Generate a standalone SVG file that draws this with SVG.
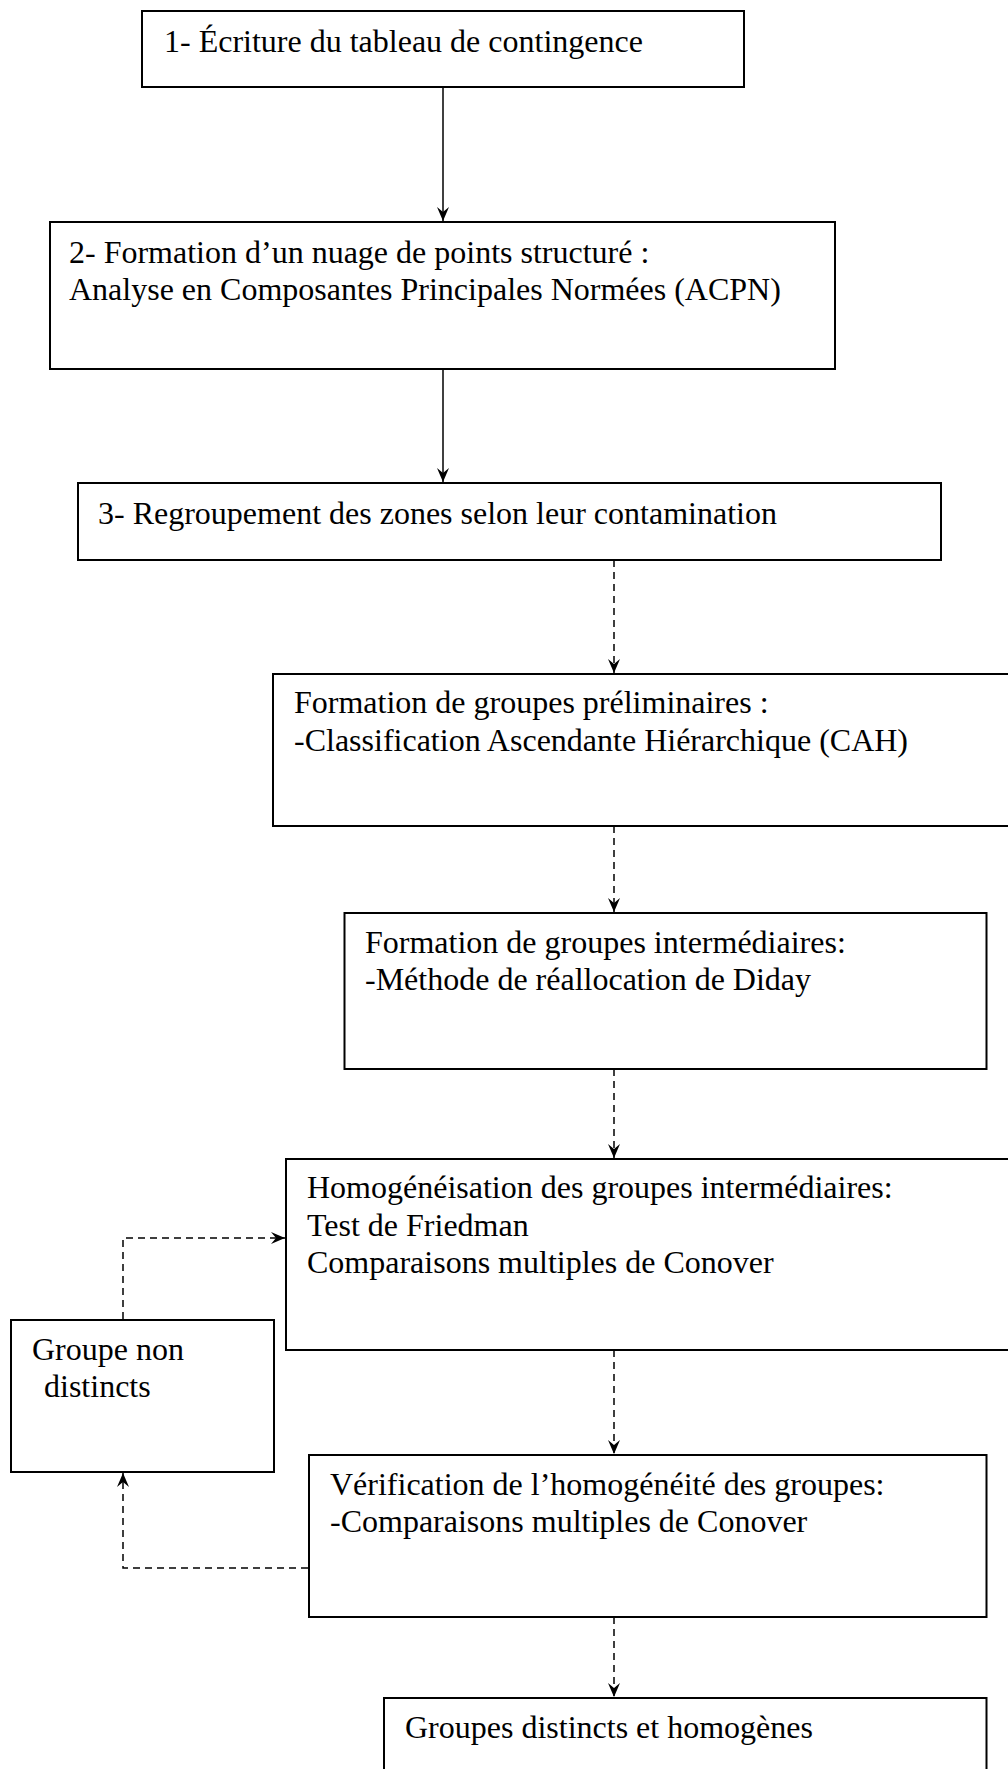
<svg xmlns="http://www.w3.org/2000/svg" width="1008" height="1769" viewBox="0 0 1008 1769">
<style>
.box{fill:#fff;stroke:#000;stroke-width:2}
.t{font-family:"Liberation Serif","Times New Roman",serif;font-size:32px;fill:#000}
.solid{fill:none;stroke:#000;stroke-width:1.5}
.dash{fill:none;stroke:#000;stroke-width:1.5;stroke-dasharray:7 5}
</style>
<defs>
<marker id="ah" viewBox="0 0 14 12" refX="14" refY="6" markerWidth="14" markerHeight="12" markerUnits="userSpaceOnUse" orient="auto">
<path d="M0,0 L14,6 L0,12 L5,6 z" fill="#000"/>
</marker>
</defs>
<rect width="1008" height="1769" fill="#fff"/>
<g id="connectors">
<line class="solid" x1="443" y1="87" x2="443" y2="221" marker-end="url(#ah)"/>
<line class="solid" x1="443" y1="369" x2="443" y2="482" marker-end="url(#ah)"/>
<line class="dash" x1="614" y1="560" x2="614" y2="673" marker-end="url(#ah)"/>
<line class="dash" x1="614" y1="826" x2="614" y2="912" marker-end="url(#ah)"/>
<line class="dash" x1="614" y1="1069" x2="614" y2="1158" marker-end="url(#ah)"/>
<line class="dash" x1="614" y1="1350" x2="614" y2="1454" marker-end="url(#ah)"/>
<line class="dash" x1="614" y1="1617" x2="614" y2="1697" marker-end="url(#ah)"/>
<polyline class="dash" points="123,1319 123,1238 285,1238" marker-end="url(#ah)"/>
<polyline class="dash" points="308,1568 123,1568 123,1473" marker-end="url(#ah)"/>
</g>
<g id="n1">
<rect class="box" x="142" y="11" width="602" height="76"/>
<text class="t" x="164" y="52">1- Écriture du tableau de contingence</text>
</g>
<g id="n2">
<rect class="box" x="50" y="222" width="785" height="147"/>
<text class="t" x="69" y="263">2- Formation d’un nuage de points structuré :</text>
<text class="t" x="69" y="300">Analyse en Composantes Principales Normées (ACPN)</text>
</g>
<g id="n3">
<rect class="box" x="78" y="483" width="863" height="77"/>
<text class="t" x="98" y="524">3- Regroupement des zones selon leur contamination</text>
</g>
<g id="n4">
<rect class="box" x="273" y="674" width="745" height="152"/>
<text class="t" x="294" y="713">Formation de groupes préliminaires :</text>
<text class="t" x="294" y="751">-Classification Ascendante Hiérarchique (CAH)</text>
</g>
<g id="n5">
<rect class="box" x="344.5" y="913" width="642" height="156"/>
<text class="t" x="365" y="953">Formation de groupes intermédiaires:</text>
<text class="t" x="365" y="990">-Méthode de réallocation de Diday</text>
</g>
<g id="n6">
<rect class="box" x="286" y="1159" width="732" height="191"/>
<text class="t" x="307" y="1198">Homogénéisation des groupes intermédiaires:</text>
<text class="t" x="307" y="1236">Test de Friedman</text>
<text class="t" x="307" y="1273">Comparaisons multiples de Conover</text>
</g>
<g id="n7">
<rect class="box" x="11" y="1320" width="263" height="152"/>
<text class="t" x="32" y="1360">Groupe non</text>
<text class="t" x="44" y="1397">distincts</text>
</g>
<g id="n8">
<rect class="box" x="309" y="1455" width="677.5" height="162"/>
<text class="t" x="330" y="1495">Vérification de l’homogénéité des groupes:</text>
<text class="t" x="330" y="1532">-Comparaisons multiples de Conover</text>
</g>
<g id="n9">
<rect class="box" x="384" y="1698" width="602.5" height="80"/>
<text class="t" x="405" y="1738">Groupes distincts et homogènes</text>
</g>
</svg>
